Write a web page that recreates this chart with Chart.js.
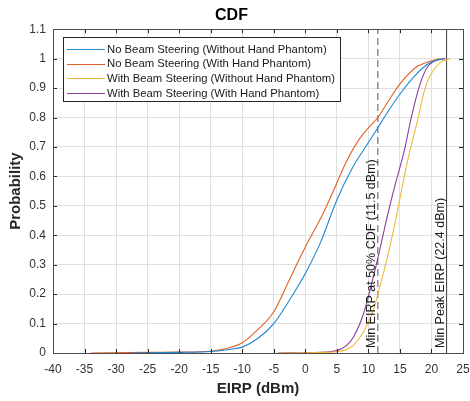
<!DOCTYPE html>
<html>
<head>
<meta charset="utf-8">
<script src="https://cdn.jsdelivr.net/npm/chart.js@4"></script>
<style>
  html, body { margin: 0; padding: 0; background: #fff; }
  #wrap { width: 470px; height: 401px; }
</style>
</head>
<body>
<div id="wrap"><canvas id="cdfChart" width="470" height="401"></canvas></div>
<script>
// values
const seriesNames = [
    "No Beam Steering (Without Hand Phantom)",
    "No Beam Steering (With Hand Phantom)",
    "With Beam Steering (Without Hand Phantom)",
    "With Beam Steering (With Hand Phantom)"
];
const seriesColors = ["#1f86cf", "#e0602a", "#f0b83a", "#8a3e9a"];

const noBsNoHandX = [-27.5, -20, -15, -12, -10, -7.5, -5, -2.5, 0, 2.5, 5, 7.5, 10, 11.5, 12.5, 15, 17.5, 19.3, 20.5, 21.9];
const noBsNoHandY = [0, 0.002, 0.005, 0.012, 0.02, 0.05, 0.1, 0.18, 0.27, 0.38, 0.52, 0.63, 0.715, 0.765, 0.8, 0.88, 0.945, 0.98, 0.993, 1];

const noBsHandX = [-34, -25, -20, -15, -12.5, -10, -7.5, -5, -2.5, 0, 2.5, 4.5, 6.5, 8.5, 10, 11.5, 13, 15, 17.5, 19, 20.5, 21.4];
const noBsHandY = [0, 0.002, 0.003, 0.006, 0.015, 0.035, 0.08, 0.14, 0.25, 0.36, 0.46, 0.553, 0.65, 0.725, 0.765, 0.8, 0.85, 0.914, 0.97, 0.985, 0.995, 1];

const bsNoHandX = [-4.3, 0, 3, 5, 6.5, 7.66, 9.25, 10.8, 11.5, 12.95, 14.3, 15.5, 16.4, 17.2, 17.9, 18.75, 19.5, 20.3, 21.6, 23];
const bsNoHandY = [0, 0.0005, 0.002, 0.004, 0.012, 0.027, 0.072, 0.146, 0.2, 0.32, 0.45, 0.58, 0.67, 0.74, 0.8, 0.88, 0.93, 0.96, 0.99, 1];

const bsHandX = [-4.3, 0, 3, 5, 6.5, 7.66, 9.25, 10.8, 11.9, 12.95, 14.1, 15.7, 16.8, 18.2, 19.3, 20.3, 22.2];
const bsHandY = [0, 0.001, 0.003, 0.008, 0.025, 0.055, 0.135, 0.26, 0.36, 0.46, 0.56, 0.688, 0.8, 0.914, 0.97, 0.99, 1];

const xTicks = [-40, -35, -30, -25, -20, -15, -10, -5, 0, 5, 10, 15, 20, 25];
const yTicks = [0, 0.1, 0.2, 0.3, 0.4, 0.5, 0.6, 0.7, 0.8, 0.9, 1, 1.1];

const minEirp50 = 11.5;
const minPeakEirp = 22.4;
const markerLabels = ["Min EIRP at 50% CDF (11.5 dBm)", "Min Peak EIRP (22.4 dBm)"];

const FONT = "'Liberation Sans', Arial, Helvetica, sans-serif";

function pts(xs, ys) {
    return xs.map((x, i) => ({ x: x, y: ys[i] }));
}

const curveData = [
    pts(noBsNoHandX, noBsNoHandY),
    pts(noBsHandX, noBsHandY),
    pts(bsNoHandX, bsNoHandY),
    pts(bsHandX, bsHandY)
];

const datasets = curveData.map((d, i) => ({
    label: seriesNames[i],
    data: d,
    borderColor: seriesColors[i],
    borderWidth: 1.1,
    pointRadius: 0,
    cubicInterpolationMode: "monotone",
    fill: false
}));

datasets.push({
    label: "minEirp50",
    data: [{ x: minEirp50, y: 0 }, { x: minEirp50, y: 1.1 }],
    borderColor: "#555555",
    borderWidth: 1,
    borderDash: [7, 4],
    pointRadius: 0
});
datasets.push({
    label: "minPeak",
    data: [{ x: minPeakEirp, y: 0 }, { x: minPeakEirp, y: 1.1 }],
    borderColor: "#3a3a3a",
    borderWidth: 1,
    pointRadius: 0
});

// box, inner tick marks, legend and marker texts
const matlabLook = {
    id: "matlabLook",
    afterDatasetsDraw(chart) {
        const ctx = chart.ctx;
        const a = chart.chartArea;
        const xs = chart.scales.x;
        const ys = chart.scales.y;
        ctx.save();

        // marker labels (rotated)
        ctx.fillStyle = "#1a1a1a";
        ctx.font = "12.5px " + FONT;
        ctx.textAlign = "left";
        ctx.textBaseline = "alphabetic";
        [[minEirp50, markerLabels[0]], [minPeakEirp, markerLabels[1]]].forEach(([v, txt]) => {
            ctx.save();
            ctx.translate(xs.getPixelForValue(v) - 3, a.bottom - 5);
            ctx.rotate(-Math.PI / 2);
            ctx.fillText(txt, 0, 0);
            ctx.restore();
        });

        // inner ticks
        ctx.strokeStyle = "#262626";
        ctx.lineWidth = 1;
        const tl = 4;
        ctx.beginPath();
        xTicks.forEach(v => {
            const px = Math.round(xs.getPixelForValue(v)) + 0.5;
            ctx.moveTo(px, a.bottom); ctx.lineTo(px, a.bottom - tl);
            ctx.moveTo(px, a.top); ctx.lineTo(px, a.top + tl);
        });
        yTicks.forEach(v => {
            const py = Math.round(ys.getPixelForValue(v)) + 0.5;
            ctx.moveTo(a.left, py); ctx.lineTo(a.left + tl, py);
            ctx.moveTo(a.right, py); ctx.lineTo(a.right - tl, py);
        });
        ctx.stroke();

        // axes box
        ctx.strokeStyle = "#4d4d4d";
        ctx.strokeRect(Math.round(a.left) + 0.5, Math.round(a.top) + 0.5,
            Math.round(a.right - a.left), Math.round(a.bottom - a.top));

        // legend
        const lx = 63, ly = 37, lw = 277, lh = 64;
        ctx.fillStyle = "#ffffff";
        ctx.fillRect(lx, ly, lw, lh);
        ctx.strokeStyle = "#262626";
        ctx.strokeRect(lx + 0.5, ly + 0.5, lw, lh);
        ctx.font = "11.3px " + FONT;
        ctx.textBaseline = "middle";
        seriesNames.forEach((name, i) => {
            const yy = ly + 12 + i * 14.7;
            ctx.strokeStyle = seriesColors[i];
            ctx.lineWidth = 1.2;
            ctx.beginPath();
            ctx.moveTo(lx + 4, Math.round(yy) + 0.5);
            ctx.lineTo(lx + 42, Math.round(yy) + 0.5);
            ctx.stroke();
            ctx.fillStyle = "#1a1a1a";
            ctx.fillText(name, lx + 44, yy + 0.5);
        });
        ctx.restore();
    }
};

new Chart(document.getElementById("cdfChart").getContext("2d"), {
    type: "line",
    data: { datasets: datasets },
    options: {
        responsive: false,
        animation: false,
        layout: { padding: { top: 0, right: 7, left: 0, bottom: 0 } },
        plugins: {
            legend: { display: false },
            tooltip: { enabled: false },
            title: {
                display: true,
                text: "CDF",
                color: "#000000",
                font: { family: FONT, size: 16, weight: "bold" },
                padding: { top: 6, bottom: 4 }
            }
        },
        scales: {
            x: {
                type: "linear",
                min: -40,
                max: 25,
                afterBuildTicks: s => { s.ticks = xTicks.map(v => ({ value: v })); },
                afterFit: s => { s.height = 48; s.paddingLeft = 0; s.paddingRight = 0; },
                ticks: {
                    color: "#333333",
                    font: { family: FONT, size: 12 },
                    padding: 9,
                    maxRotation: 0,
                    autoSkip: false
                },
                grid: { color: "#e0e0e0", drawTicks: false },
                border: { display: false },
                title: {
                    display: true,
                    text: "EIRP (dBm)",
                    color: "#262626",
                    font: { family: FONT, size: 15, weight: "bold" },
                    padding: { top: 0, bottom: 3 }
                }
            },
            y: {
                type: "linear",
                min: 0,
                max: 1.1,
                afterBuildTicks: s => { s.ticks = yTicks.map(v => ({ value: v })); },
                afterFit: s => { s.width = 53; },
                ticks: {
                    color: "#333333",
                    font: { family: FONT, size: 12 },
                    padding: 7,
                    autoSkip: false,
                    callback: v => String(Number(v.toFixed(1)))
                },
                grid: { color: "#e0e0e0", drawTicks: false },
                border: { display: false },
                title: {
                    display: true,
                    text: "Probability",
                    color: "#262626",
                    font: { family: FONT, size: 15, weight: "bold" },
                    padding: { top: 7, bottom: 0 }
                }
            }
        }
    },
    plugins: [matlabLook]
});
</script>
</body>
</html>
